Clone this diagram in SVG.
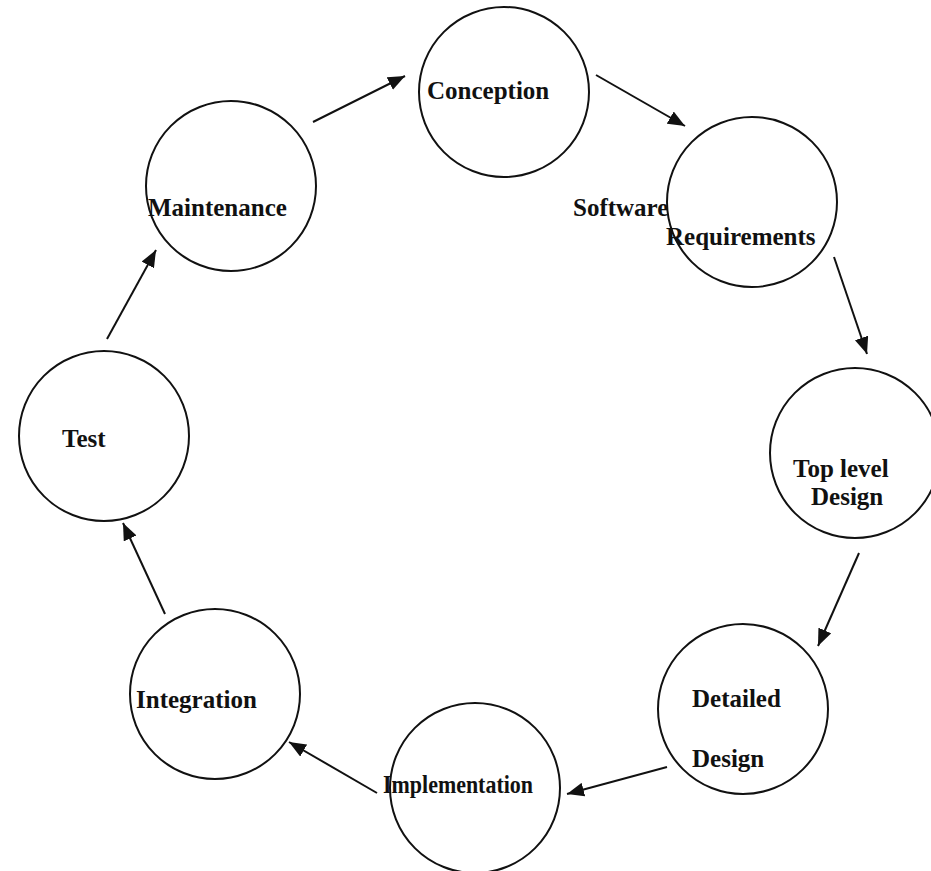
<svg xmlns="http://www.w3.org/2000/svg" width="931" height="871" viewBox="0 0 931 871">
<style>
.node circle{fill:#fff;stroke:#111;stroke-width:2}
.lbl{font-family:"Liberation Serif","Times New Roman",serif;font-weight:bold;font-size:25px;fill:#111}
.conn line{stroke:#111;stroke-width:2;marker-end:url(#ah)}
</style>
<defs>
<marker id="ah" markerUnits="userSpaceOnUse" markerWidth="18" markerHeight="14" refX="17" refY="7" orient="auto">
<path d="M0,0 L17,7 L0,14 z" fill="#111"/>
</marker>
</defs>
<rect width="931" height="871" fill="#fff"/>
<g id="n-conception" class="node">
<circle cx="504" cy="92" r="85"/>
<text class="lbl" x="427" y="99">Conception</text>
</g>
<g id="n-requirements" class="node">
<circle cx="752" cy="202" r="85"/>
<text class="lbl" x="573" y="216">Software</text>
<text class="lbl" x="666" y="245">Requirements</text>
</g>
<g id="n-toplevel" class="node">
<circle cx="855" cy="453" r="85"/>
<text class="lbl" x="793" y="477">Top level</text>
<text class="lbl" x="811" y="505">Design</text>
</g>
<g id="n-detailed" class="node">
<circle cx="743" cy="709" r="85"/>
<text class="lbl" x="692" y="707">Detailed</text>
<text class="lbl" x="692" y="767">Design</text>
</g>
<g id="n-implementation" class="node">
<circle cx="475" cy="788" r="85"/>
<text class="lbl" x="383" y="793" textLength="150" lengthAdjust="spacingAndGlyphs">Implementation</text>
</g>
<g id="n-integration" class="node">
<circle cx="215" cy="694" r="85"/>
<text class="lbl" x="136" y="708">Integration</text>
</g>
<g id="n-test" class="node">
<circle cx="104" cy="436" r="85"/>
<text class="lbl" x="62" y="447">Test</text>
</g>
<g id="n-maintenance" class="node">
<circle cx="231" cy="186" r="85"/>
<text class="lbl" x="148" y="216">Maintenance</text>
</g>
<g id="connectors" class="conn">
<line x1="313" y1="122" x2="405" y2="76"/>
<line x1="596" y1="75" x2="685" y2="126"/>
<line x1="834" y1="257" x2="867" y2="354"/>
<line x1="859" y1="553" x2="818" y2="646"/>
<line x1="667" y1="767" x2="567" y2="794"/>
<line x1="377" y1="793" x2="289" y2="742"/>
<line x1="165" y1="614" x2="123" y2="523"/>
<line x1="107" y1="339" x2="156" y2="250"/>
</g>
</svg>
